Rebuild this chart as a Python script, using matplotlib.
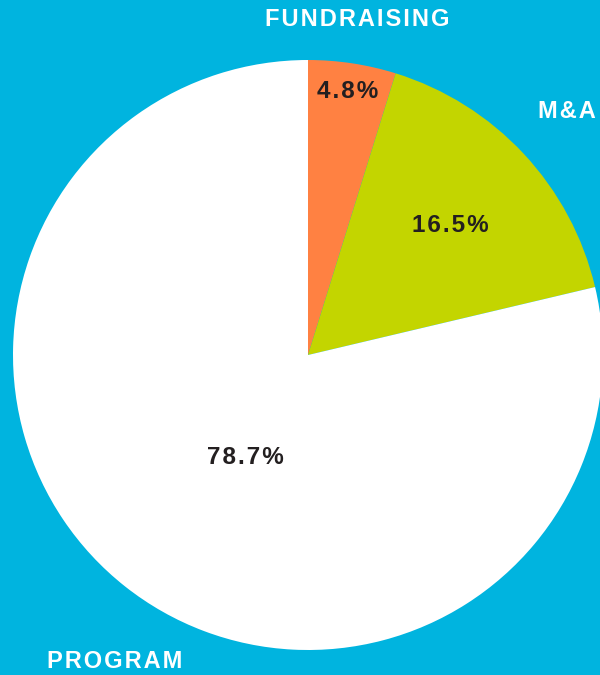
import matplotlib
matplotlib.use("Agg")
import matplotlib.pyplot as plt

categories = ["FUNDRAISING", "M&A", "PROGRAM"]
values = [4.8, 16.5, 78.7]
pct_labels = ["4.8%", "16.5%", "78.7%"]
colors = ["#FF8142", "#C3D500", "#FFFFFF"]
bg = "#00B4DF"

fig = plt.figure(figsize=(6, 6.75), dpi=100, facecolor=bg)
W, H = 600, 675
cx, cy, r = 308, 355, 295
ax = fig.add_axes([(cx - r) / W, (H - cy - r) / H, 2 * r / W, 2 * r / H])
ax.set_facecolor(bg)
wedges, _ = ax.pie(values, colors=colors, startangle=90, counterclock=False,
                   radius=1.0, wedgeprops=dict(linewidth=0))
ax.set_xlim(-1, 1)
ax.set_ylim(-1, 1)
ax.set_aspect("equal")
ax.axis("off")

def px(x, y):
    return x / W, 1 - y / H

font = "Liberation Sans"

def spaced(s):
    return "\u200a".join(s)

pct_pos = [(348, 92), (450, 226), (245, 458)]
for lab, (x, y) in zip(pct_labels, pct_pos):
    fig.text(*px(x, y), spaced(lab), ha="center", va="center", fontsize=17.5,
             fontweight="bold", color="#231F20", family=[font, "DejaVu Sans"])

cat_pos = [(357, 20), (567, 112), (115, 662)]
for lab, (x, y) in zip(categories, cat_pos):
    fig.text(*px(x, y), spaced(lab), ha="center", va="center", fontsize=17,
             fontweight="bold", color="white", family=[font, "DejaVu Sans"])

fig.savefig("out.png", dpi=100, facecolor=bg)
